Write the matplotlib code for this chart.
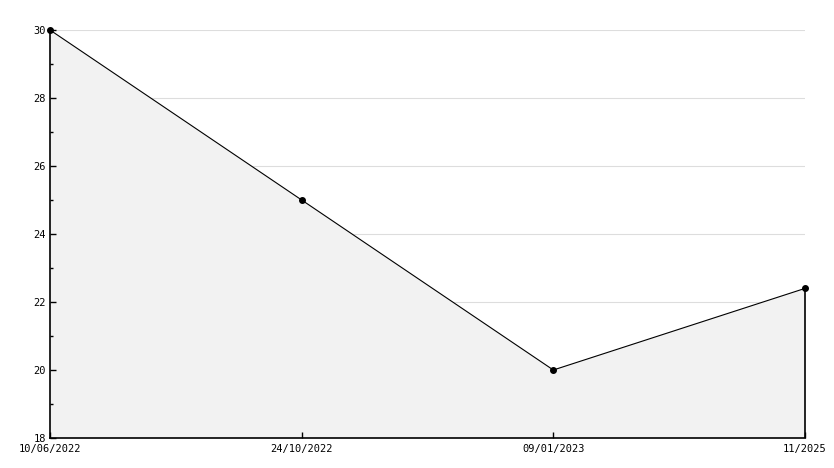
import matplotlib
matplotlib.use("Agg")
import matplotlib.pyplot as plt
from matplotlib.ticker import MultipleLocator

labels = ["10/06/2022", "24/10/2022", "09/01/2023", "11/2025"]
values = [30, 25, 20, 22.4]

fig = plt.figure(figsize=(8.34, 4.68), dpi=100)
ax = fig.add_axes([50/834, 1-438/468, 755/834, 408/468])
x = list(range(len(values)))

ax.set_xlim(0, len(values)-1)
ax.set_ylim(18, 30)

for gy in range(20, 31, 2):
    ax.axhline(gy, color="#dddddd", linewidth=0.8, zorder=0)

ax.fill_between(x, values, 18, facecolor="#f2f2f2", edgecolor="none", zorder=1)
vl = ax.vlines(x[-1], 18, values[-1], color="black", linewidth=1.2, zorder=2)
vl.set_clip_on(False)
ax.plot(x, values, color="black", linewidth=0.8, marker="o", markersize=4, zorder=3, clip_on=False)

ax.set_xticks(x)
ax.set_xticklabels(labels)
ax.yaxis.set_major_locator(MultipleLocator(2))
ax.yaxis.set_minor_locator(MultipleLocator(1))

for s in ["top", "right"]:
    ax.spines[s].set_visible(False)
for s in ["left", "bottom"]:
    ax.spines[s].set_linewidth(1.2)
    ax.spines[s].set_zorder(4)

ax.tick_params(axis="both", which="major", direction="in", length=4, width=1, labelsize=7.5, pad=3)
ax.tick_params(axis="y", which="minor", direction="in", length=2.5, width=1)
ax.tick_params(axis="x", pad=4)
for lab in ax.get_xticklabels() + ax.get_yticklabels():
    lab.set_family("DejaVu Sans Mono")

fig.savefig("out.png", dpi=100)
